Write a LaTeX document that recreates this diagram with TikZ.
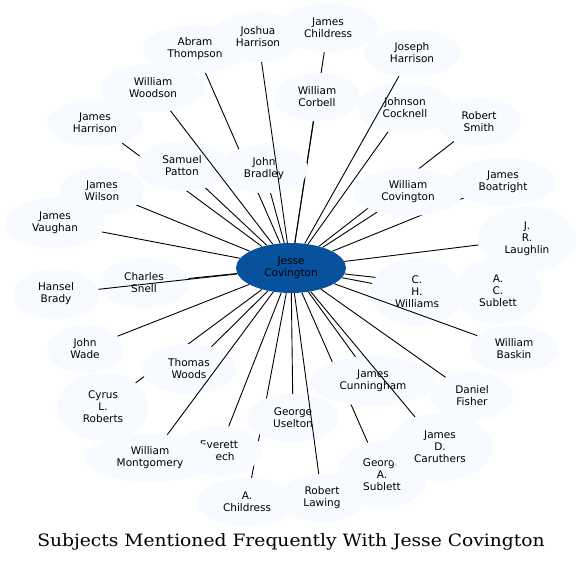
\documentclass[tikz,border=0pt]{standalone}
\usepackage{fontspec}
\setmainfont{DejaVu Sans}
\newfontfamily\titlefont{DejaVu Serif}
\usetikzlibrary{shapes.geometric}
\definecolor{nodefill}{HTML}{F7FBFF}
\definecolor{centerfill}{HTML}{08519C}
\pgfdeclarelayer{edgelayer}
\pgfdeclarelayer{toplayer}
\pgfsetlayers{edgelayer,main,toplayer}
\tikzset{
  subj/.style={ellipse, fill=nodefill, inner sep=0pt, align=center,
    font=\fontsize{10.5}{12}\selectfont},
  hub/.style={ellipse, fill=centerfill, inner sep=0pt, align=center,
    font=\fontsize{10.5}{12}\selectfont},
  link/.style={line width=0.9pt, black},
}
\newcommand{\subjnode}[6]{\node[subj, minimum width=#4pt, minimum height=#5pt] (#1) at (#2,#3) {#6};}
\begin{document}
\begin{tikzpicture}[x=1pt,y=-1pt]
\useasboundingbox (0,0) rectangle (582,563);
\node[hub, minimum width=110pt, minimum height=50pt] (c) at (291,268) {Jesse\\Covington};
\subjnode{abram}{195}{49}{104}{48}{Abram\\Thompson}
\subjnode{childress}{328}{28}{100}{48}{James\\Childress}
\subjnode{joshua}{258}{37}{92}{50}{Joshua\\Harrison}
\subjnode{josephh}{412}{53}{96}{48}{Joseph\\Harrison}
\subjnode{woodson}{153}{88}{104}{48}{William\\Woodson}
\subjnode{corbell}{317}{97}{86}{48}{William\\Corbell}
\subjnode{cocknell}{405}{108}{96}{50}{Johnson\\Cocknell}
\subjnode{rsmith}{479}{122}{84}{48}{Robert\\Smith}
\subjnode{jharrison}{95}{123}{96}{48}{James\\Harrison}
\subjnode{patton}{182}{166}{92}{50}{Samuel\\Patton}
\subjnode{bradley}{264}{169}{88}{48}{John\\Bradley}
\subjnode{boatright}{503}{182}{104}{48}{James\\Boatright}
\subjnode{wcov}{408}{192}{110}{48}{William\\Covington}
\subjnode{jwilson}{102}{191}{84}{48}{James\\Wilson}
\subjnode{vaughan}{55}{223}{100}{50}{James\\Vaughan}
\subjnode{laughlin}{527}{239}{98}{66}{J.\\R.\\Laughlin}
\subjnode{acs}{498}{291}{86}{66}{A.\\C.\\Sublett}
\subjnode{chw}{417}{292}{92}{68}{C.\\H.\\Williams}
\subjnode{snell}{144}{283}{90}{50}{Charles\\Snell}
\subjnode{brady}{56}{294}{86}{50}{Hansel\\Brady}
\subjnode{wade}{85}{349}{76}{48}{John\\Wade}
\subjnode{twoods}{189}{369}{94}{50}{Thomas\\Woods}
\subjnode{baskin}{514}{349}{88}{48}{William\\Baskin}
\subjnode{cunningham}{373}{381}{126}{50}{James\\Cunningham}
\subjnode{fisher}{472}{396}{82}{48}{Daniel\\Fisher}
\subjnode{croberts}{103}{407}{92}{68}{Cyrus\\L.\\Roberts}
\subjnode{uselton}{293}{418}{92}{48}{George\\Uselton}
\subjnode{gas}{382}{475}{90}{68}{George\\A.\\Sublett}
\subjnode{caruthers}{440}{447}{104}{68}{James\\D.\\Caruthers}
\subjnode{leech}{219}{451}{86}{50}{Everett\\Leech}
\subjnode{montgomery}{150}{458}{130}{48}{William\\Montgomery}
\subjnode{achildress}{247}{502}{100}{48}{A.\\Childress}
\subjnode{lawing}{322}{498}{86}{48}{Robert\\Lawing}
\begin{pgfonlayer}{edgelayer}
\foreach \n in {abram,childress,corbell,cocknell,rsmith,jharrison,patton,bradley,
  boatright,wcov,jwilson,vaughan,laughlin,acs,chw,snell,wade,twoods,cunningham,
  fisher,croberts,uselton,gas,leech,achildress}
  \draw[link] (c) -- (\n);
\end{pgfonlayer}
\begin{pgfonlayer}{toplayer}
\foreach \n in {joshua,woodson,josephh,caruthers,lawing,brady,baskin,montgomery}
  \draw[link] (c) -- (\n);
\end{pgfonlayer}
\node[font=\titlefont\fontsize{17}{20}\selectfont, anchor=base] (title) at (291,546) {\scalebox{1.1}[1]{Subjects Mentioned Frequently With Jesse Covington}};
\end{tikzpicture}
\end{document}
